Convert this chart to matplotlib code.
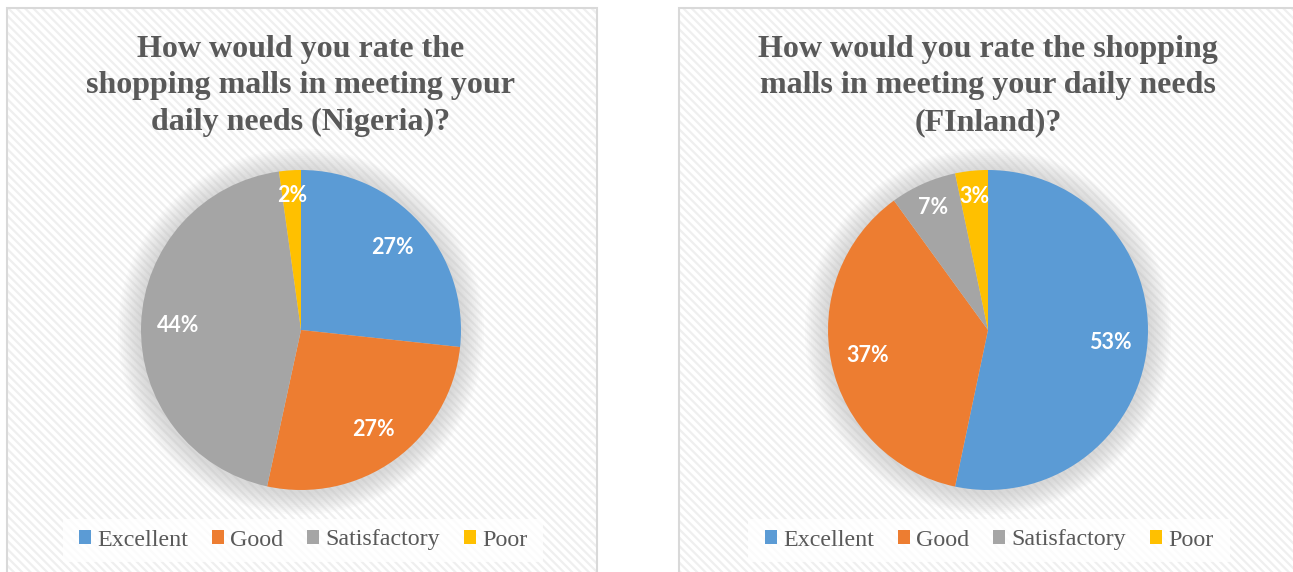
import matplotlib.pyplot as plt
from matplotlib.patches import Rectangle, Circle, Patch

categories = ['Excellent', 'Good', 'Satisfactory', 'Poor']
colors = ['#5B9BD5', '#ED7D31', '#A5A5A5', '#FFC000']
nigeria = [26.7, 26.7, 44.4, 2.2]
finland = [53.3, 36.7, 6.7, 3.3]
titles = ['How would you rate the\nshopping malls in meeting your\ndaily needs (Nigeria)?',
          'How would you rate the shopping\nmalls in meeting your daily needs\n(FInland)?']

W, H = 1293, 572
plt.rcParams['hatch.linewidth'] = 1.6
fig = plt.figure(figsize=(W / 100, H / 100), dpi=100)

# panels (px): left, top, right
panels = [(7, 8, 597), (679, 8, 1310)]
centers = [(301, 330), (988, 330)]
legend_boxes = [(63, 519, 543), (748, 519, 1230)]
R = 160


def px_rect(x0, y0, x1, y1, **kw):
    return Rectangle((x0 / W, (H - y1) / H), (x1 - x0) / W, (y1 - y0) / H,
                     transform=fig.transFigure, **kw)


for i, vals in enumerate([nigeria, finland]):
    l, t, r = panels[i]
    fig.patches.append(px_rect(l, t, r, H + 30, facecolor='white', edgecolor='#efefef',
                               lw=0, hatch='\\' * 4, zorder=-6))
    fig.patches.append(px_rect(l, t, r, H + 30, facecolor='none', edgecolor='#d9d9d9',
                               lw=1.5, zorder=-5))
    lx0, ly0, lx1 = legend_boxes[i]
    fig.patches.append(px_rect(lx0, ly0, lx1, ly0 + 43, facecolor='white', alpha=0.8,
                               lw=0, zorder=-4))
    fig.text(centers[i][0] / W, (H - 86) / H, titles[i], ha='center', va='center',
             fontsize=23, fontweight='bold', color='#595959', family='Liberation Serif',
             linespacing=1.33)

    cx, cy = centers[i]
    half = 200
    ax = fig.add_axes([(cx - half) / W, (H - cy - half) / H, 2 * half / W, 2 * half / H])
    ax.patch.set_visible(False)
    ax.axis('off')
    # soft shadow
    for k in range(12):
        ax.add_patch(Circle((0.0, -0.01), 1 + 0.012 * (12 - k), color='#bdbdbd',
                            alpha=0.06, lw=0))
    wedges, texts, autotexts = ax.pie(vals, colors=colors, startangle=90, counterclock=False,
                                      autopct=lambda p: f'{p:.0f}%', pctdistance=0.77,
                                      radius=1, wedgeprops=dict(linewidth=0),
                                      textprops=dict(color='white', fontsize=15.5,
                                                     fontweight='bold', family='Lato'))
    for v, at in zip(vals, autotexts):
        if v < 10:
            x, y = at.get_position()
            at.set_position((x * 0.84 / 0.77, y * 0.84 / 0.77))
    ax.set_aspect('equal')
    ax.set_xlim(-half / R, half / R)
    ax.set_ylim(-half / R, half / R)

    handles = [Patch(facecolor=c, edgecolor='none') for c in colors]
    leg = fig.legend(handles, categories, loc='center', ncol=4,
                     bbox_to_anchor=((lx0 + lx1) / 2 / W, (H - 540) / H),
                     frameon=False, handlelength=0.5, handleheight=0.5, handletextpad=0.25,
                     columnspacing=1.0, borderpad=0, borderaxespad=0,
                     prop=dict(family='Liberation Serif', size=17.3))
    for tx in leg.get_texts():
        tx.set_color('#595959')

fig.savefig('out.png', dpi=100)
